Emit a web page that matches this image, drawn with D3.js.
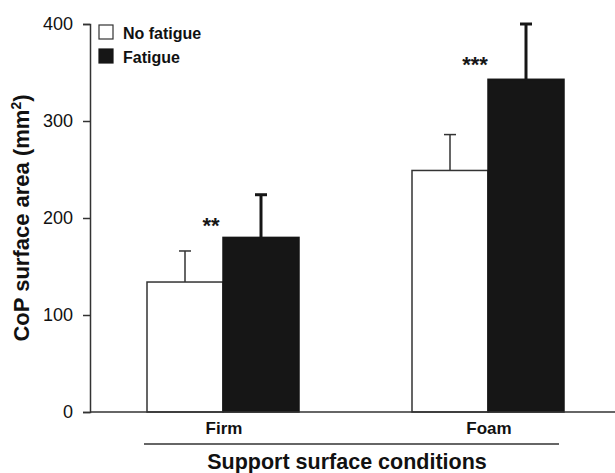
<!DOCTYPE html>
<html>
<head>
<meta charset="utf-8">
<script src="https://cdn.jsdelivr.net/npm/d3@7"></script>
<style>
  body { margin: 0; background: #fff; }
  svg { display: block; font-family: "Liberation Sans", Arial, sans-serif; }
</style>
</head>
<body>
<svg id="chart" width="615" height="473"></svg>
<script>
// dados
const categories = ["Firm", "Foam"];
const series = ["No fatigue", "Fatigue"];
const noFatigue = [134, 249];
const fatigue = [180, 343];
const noFatigueErr = [166, 286];
const fatigueErr = [224, 400];
const stars = ["**", "***"];
const yTicks = [0, 100, 200, 300, 400];

const svg = d3.select("#chart");
const W = 615;
const ink = "#161616";
const FONT = "'Liberation Sans', Arial, sans-serif";

const y = d3.scaleLinear().domain([0, 400]).range([412, 24]);
const x = d3.scalePoint().domain(categories).range([223, 488]);
const xs = d3.scaleBand().domain(series).range([-76, 76]).padding(0);

const rows = categories.map((c, i) => ({
  cat: c,
  vals: [
    { s: "No fatigue", v: noFatigue[i], e: noFatigueErr[i] },
    { s: "Fatigue", v: fatigue[i], e: fatigueErr[i] },
  ],
  star: stars[i],
}));

// eixo y
const axisY = svg.append("g").attr("transform", "translate(90,0)")
  .call(d3.axisLeft(y).tickValues(yTicks).tickSize(7).tickPadding(10))
  .attr("font-family", FONT).attr("font-size", 18);
axisY.select(".domain").attr("stroke", "#333").attr("stroke-width", 1.5);
axisY.selectAll(".tick line").attr("stroke", "#333").attr("stroke-width", 1.5);
axisY.selectAll(".tick text").attr("fill", "#111");

// barras
const g = svg.append("g").selectAll("g").data(rows).join("g")
  .attr("transform", (d) => `translate(${x(d.cat)},0)`);

// barras de erro (desenhadas antes para ficar atrás)
g.selectAll("line.err").data((d) => d.vals).join("line")
  .attr("class", "err")
  .attr("x1", (d) => xs(d.s) + xs.bandwidth() / 2)
  .attr("x2", (d) => xs(d.s) + xs.bandwidth() / 2)
  .attr("y1", (d) => y(d.v))
  .attr("y2", (d) => y(d.e))
  .attr("stroke", (d) => d.s === "Fatigue" ? ink : "#333")
  .attr("stroke-width", (d) => d.s === "Fatigue" ? 3 : 1.5);
g.selectAll("line.cap").data((d) => d.vals).join("line")
  .attr("class", "cap")
  .attr("x1", (d) => xs(d.s) + xs.bandwidth() / 2 - 6)
  .attr("x2", (d) => xs(d.s) + xs.bandwidth() / 2 + 6)
  .attr("y1", (d) => y(d.e))
  .attr("y2", (d) => y(d.e))
  .attr("stroke", (d) => d.s === "Fatigue" ? ink : "#333")
  .attr("stroke-width", (d) => d.s === "Fatigue" ? 3 : 1.5);

g.selectAll("rect").data((d) => d.vals).join("rect")
  .attr("x", (d) => xs(d.s))
  .attr("y", (d) => y(d.v))
  .attr("width", xs.bandwidth())
  .attr("height", (d) => y(0) - y(d.v))
  .attr("fill", (d) => d.s === "Fatigue" ? ink : "#fff")
  .attr("stroke", (d) => d.s === "Fatigue" ? ink : "#333")
  .attr("stroke-width", 1.5);

// asteriscos
g.append("text")
  .attr("x", (d) => d.cat === "Firm" ? -12 : -13)
  .attr("y", (d) => d.cat === "Firm" ? 233 : 72)
  .attr("text-anchor", "middle")
  .style("font-size", "22px").style("font-weight", "bold")
  .attr("fill", ink)
  .text((d) => d.star);

// eixo x
svg.append("line").attr("x1", 90).attr("x2", W).attr("y1", y(0)).attr("y2", y(0))
  .attr("stroke", "#333").attr("stroke-width", 1.5);
svg.selectAll("text.cat").data(categories).join("text")
  .attr("class", "cat")
  .attr("x", (d) => x(d) + 1).attr("y", 434)
  .attr("text-anchor", "middle")
  .style("font-size", "17px").style("font-weight", "bold").attr("fill", "#111")
  .text((d) => d);

svg.append("line")
  .attr("x1", x("Firm") - 79).attr("x2", x("Foam") + 71)
  .attr("y1", 444).attr("y2", 444)
  .attr("stroke", "#333").attr("stroke-width", 1.5);

svg.append("text")
  .attr("x", 347).attr("y", 469)
  .attr("text-anchor", "middle")
  .style("font-size", "21.5px").style("font-weight", "bold").attr("fill", "#111")
  .text("Support surface conditions");

// título do eixo y
const yl = svg.append("text")
  .attr("transform", "translate(29,218) rotate(-90)")
  .attr("text-anchor", "middle")
  .style("font-size", "22px").style("font-weight", "bold").attr("fill", "#111");
yl.append("tspan").text("CoP surface area (mm");
yl.append("tspan").attr("dy", -8).style("font-size", "14px").text("2");
yl.append("tspan").attr("dy", 8).text(")");

// legenda
const leg = svg.append("g").selectAll("g").data(series).join("g")
  .attr("transform", (d, i) => `translate(99,${25 + i * 24})`);
leg.append("rect")
  .attr("width", 14).attr("height", 14)
  .attr("fill", (d) => d === "Fatigue" ? ink : "#fff")
  .attr("stroke", (d) => d === "Fatigue" ? ink : "#333")
  .attr("stroke-width", 1.2);
leg.append("text")
  .attr("x", 24).attr("y", 14)
  .style("font-size", "16px").style("font-weight", "bold").attr("fill", "#111")
  .text((d) => d);
</script>
</body>
</html>
